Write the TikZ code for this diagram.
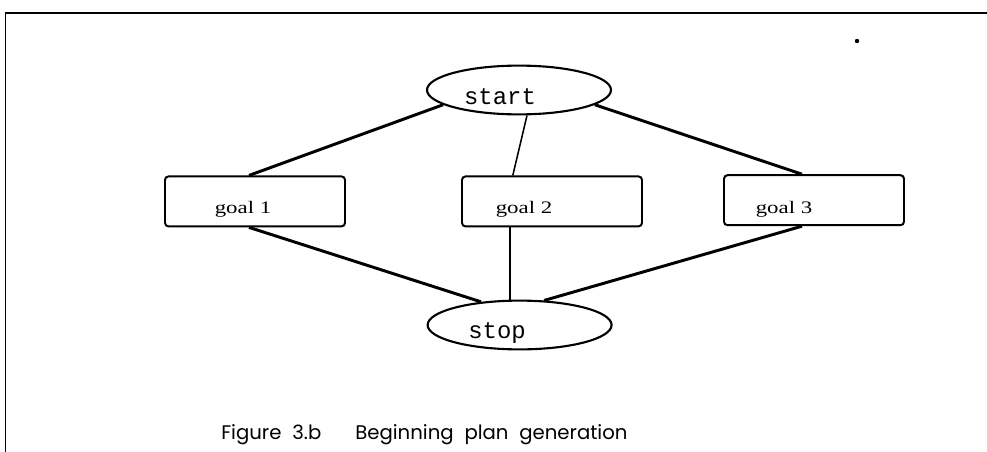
\documentclass[tikz,border=0pt]{standalone}
\usepackage{fontspec}
\usetikzlibrary{shapes.geometric}
\newfontfamily\planmono{Liberation Mono}
\newfontfamily\planserif{Liberation Serif}
\newfontfamily\plancaption{Poppins}

\begin{document}
\begin{tikzpicture}[
  endnode/.style={draw,ellipse,line width=1.5pt,minimum width=4.6cm,minimum height=1.22cm,inner sep=0pt},
  goalbox/.style={draw,rectangle,rounded corners=2.5pt,line width=1.4pt,minimum width=4.5cm,minimum height=1.25cm,inner sep=0pt},
  endtext/.style={anchor=base,inner sep=0pt,font=\planmono\fontsize{17}{20}\selectfont},
  goaltext/.style={anchor=base,inner sep=0pt,font=\planserif\fontsize{12.5}{15}\selectfont},
  thickedge/.style={line width=2.1pt},
  thinedge/.style={line width=1.1pt}]
\useasboundingbox (0,0) rectangle (24.675,11.275);
\clip (0,0) rectangle (24.675,11.275);
% frame
\draw[line width=1pt] (0.14,-0.5) -- (0.14,10.95);
\draw[line width=1.4pt] (0.12,10.95) -- (25,10.95);
\fill (21.425,10.25) circle (0.055);
% nodes
\node[endnode] (start) at (12.975,9.025) {};
\node[endnode] (stop) at (12.99,3.15) {};
\node[goalbox] (g1) at (6.375,6.24) {};
\node[goalbox] (g2) at (13.8,6.24) {};
\node[goalbox] (g3) at (20.35,6.27) {};
\node[endtext] (startlabel) at (12.5,8.675) {start};
\node[endtext] (stoplabel) at (12.425,2.825) {stop};
\node[goaltext] (g1label) at (6.075,5.95) {\scalebox{1.3}[1]{goal 1}};
\node[goaltext] (g2label) at (13.1,5.95) {\scalebox{1.3}[1]{goal 2}};
\node[goaltext] (g3label) at (19.6,5.95) {\scalebox{1.3}[1]{goal 3}};
% edges
\draw[thickedge] (start.191) -- ([xshift=-0.15cm]g1.north);
\draw[thinedge] ([xshift=0.2cm]start.south) -- ([xshift=-0.98cm]g2.north);
\draw[thickedge] (start.-11) -- ([xshift=-0.3cm]g3.north);
\draw[thickedge] ([xshift=-0.15cm]g1.south) -- (stop.149);
\draw[thinedge] ([xshift=-1.05cm]g2.south) -- ([xshift=-1.05cm]g2.south |- stop.north);
\draw[thickedge] ([xshift=-0.3cm]g3.south) -- (stop.45);
% caption
\node[anchor=base west,inner sep=0pt,font=\plancaption\fontsize{14}{17}\selectfont] (caption) at (5.525,0.3)
  {\spaceskip=0.55em Figure 3.b\hspace{0.85cm}Beginning plan generation};
\end{tikzpicture}
\end{document}
